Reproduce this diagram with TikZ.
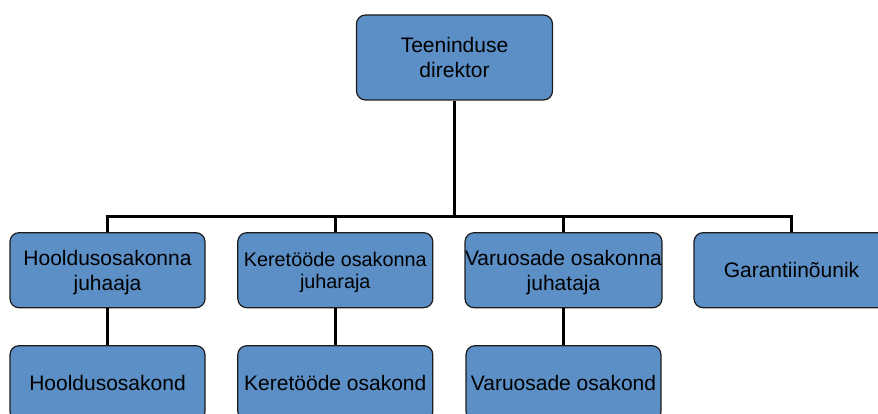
\documentclass[tikz,border=0pt]{standalone}
\usepackage{fontspec}
\setmainfont{Liberation Sans}
\begin{document}
\definecolor{boxblue}{HTML}{5B8FC6}
\definecolor{boxline}{HTML}{1C1C1C}
\tikzset{
  unit/.style={draw=boxline, line width=1.2pt, fill=boxblue, rounded corners=9pt,
    minimum width=195pt, minimum height=75pt, inner sep=0pt, align=center,
    text depth=0pt, font=\fontsize{21}{25}\selectfont},
  link/.style={line width=3pt, black}
}
\begin{tikzpicture}[x=1pt, y=-1pt]
  \useasboundingbox (0,0) rectangle (878,414);
  \clip (0,0) rectangle (878,414);
  % head of the service department
  \node[unit, minimum width=196pt, minimum height=85pt] (dir) at (454.5,57.5) {Teeninduse\\direktor};
  % department heads
  \node[unit] (h1) at (107.5,270.2) {Hooldusosakonna\\juhaaja};
  \node[unit, font=\fontsize{19.8}{22.7}\selectfont] (h2) at (335.3,270.2) {Keretööde osakonna\\juharaja};
  \node[unit] (h3) at (563.5,270.2) {Varuosade osakonna\\juhataja};
  \node[unit] (h4) at (791.5,270.2) {Garantiinõunik};
  % departments
  \node[unit] (d1) at (107.5,383.2) {Hooldusosakond};
  \node[unit] (d2) at (335.3,383.2) {Keretööde osakond};
  \node[unit] (d3) at (563.5,383.2) {Varuosade osakond};
  % connectors
  \coordinate (bar) at (454.5,216.5);
  \draw[link] (dir.south) -- (bar);
  \draw[link] (h1.north) |- (bar) -| (h4.north);
  \draw[link] (h2.north) -- (h2.north |- bar);
  \draw[link] (h3.north) -- (h3.north |- bar);
  \draw[link] (h1.south) -- (d1.north);
  \draw[link] (h2.south) -- (d2.north);
  \draw[link] (h3.south) -- (d3.north);
\end{tikzpicture}
\end{document}
